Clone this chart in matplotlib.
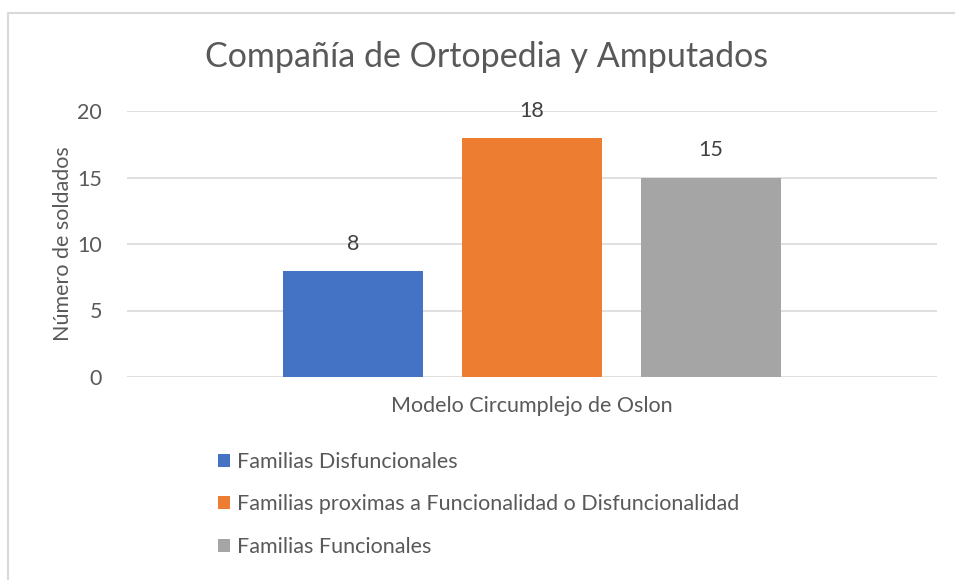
import matplotlib.pyplot as plt
from matplotlib.lines import Line2D
from matplotlib.patches import Patch

# data
category = "Modelo Circumplejo de Oslon"
series = ["Familias Disfuncionales",
          "Familias proximas a Funcionalidad o Disfuncionalidad",
          "Familias Funcionales"]
values = [8, 18, 15]
colors = ["#4472C4", "#ED7D31", "#A5A5A5"]

plt.rcParams['font.family'] = ['Lato', 'DejaVu Sans']
text_col = "#595959"

fig = plt.figure(figsize=(9.55, 5.8), dpi=100)
ax = fig.add_axes([127 / 955, 1 - 377 / 580, 810 / 955, 266 / 580])

bar_w = 0.174
gap = 0.047
center = 0.5
n = len(values)
for i, (v, c, s) in enumerate(zip(values, colors, series)):
    x = center + (i - (n - 1) / 2) * (bar_w + gap)
    ax.bar(x, v, width=bar_w, color=c, label=s, zorder=3)
    ax.annotate(str(v), (x, v), xytext=(0, 19.5), textcoords="offset points",
                ha="center", va="center", fontsize=15.5, color="#404040")

ax.set_xlim(0, 1)
ax.set_ylim(0, 20)
ax.set_yticks([0, 5, 10, 15, 20])
ax.set_xticks([center])
ax.set_xticklabels([category])
ax.tick_params(axis="both", length=0, labelsize=15.5, labelcolor=text_col)
ax.tick_params(axis="x", pad=14)
ax.tick_params(axis="y", pad=18)
ax.grid(axis="y", color="#D9D9D9", linewidth=1.2, zorder=0)
for sp in ax.spines.values():
    sp.set_visible(False)
ax.set_ylabel("Número de soldados", fontsize=15.5, color=text_col, labelpad=3)

fig.text(487 / 955, 1 - 57 / 580, "Compañía de Ortopedia y Amputados",
         ha="center", va="center", fontsize=24.5, color=text_col)

handles = [Patch(facecolor=c, label=s) for c, s in zip(colors, series)]
fig.legend(handles=handles, loc="upper left",
           bbox_to_anchor=(203 / 955, 1 - 437 / 580), frameon=False,
           fontsize=15.5, labelcolor=text_col, handlelength=0.55,
           handleheight=0.55, handletextpad=0.35, labelspacing=1.04,
           borderpad=0.2)

# chart border (only top and left visible in the crop)
fig.add_artist(Line2D([8 / 955, 8 / 955, 1], [0, 1 - 13 / 580, 1 - 13 / 580],
                      transform=fig.transFigure, color="#D9D9D9", linewidth=1.5))

fig.savefig("out.png", dpi=100, facecolor="white")
